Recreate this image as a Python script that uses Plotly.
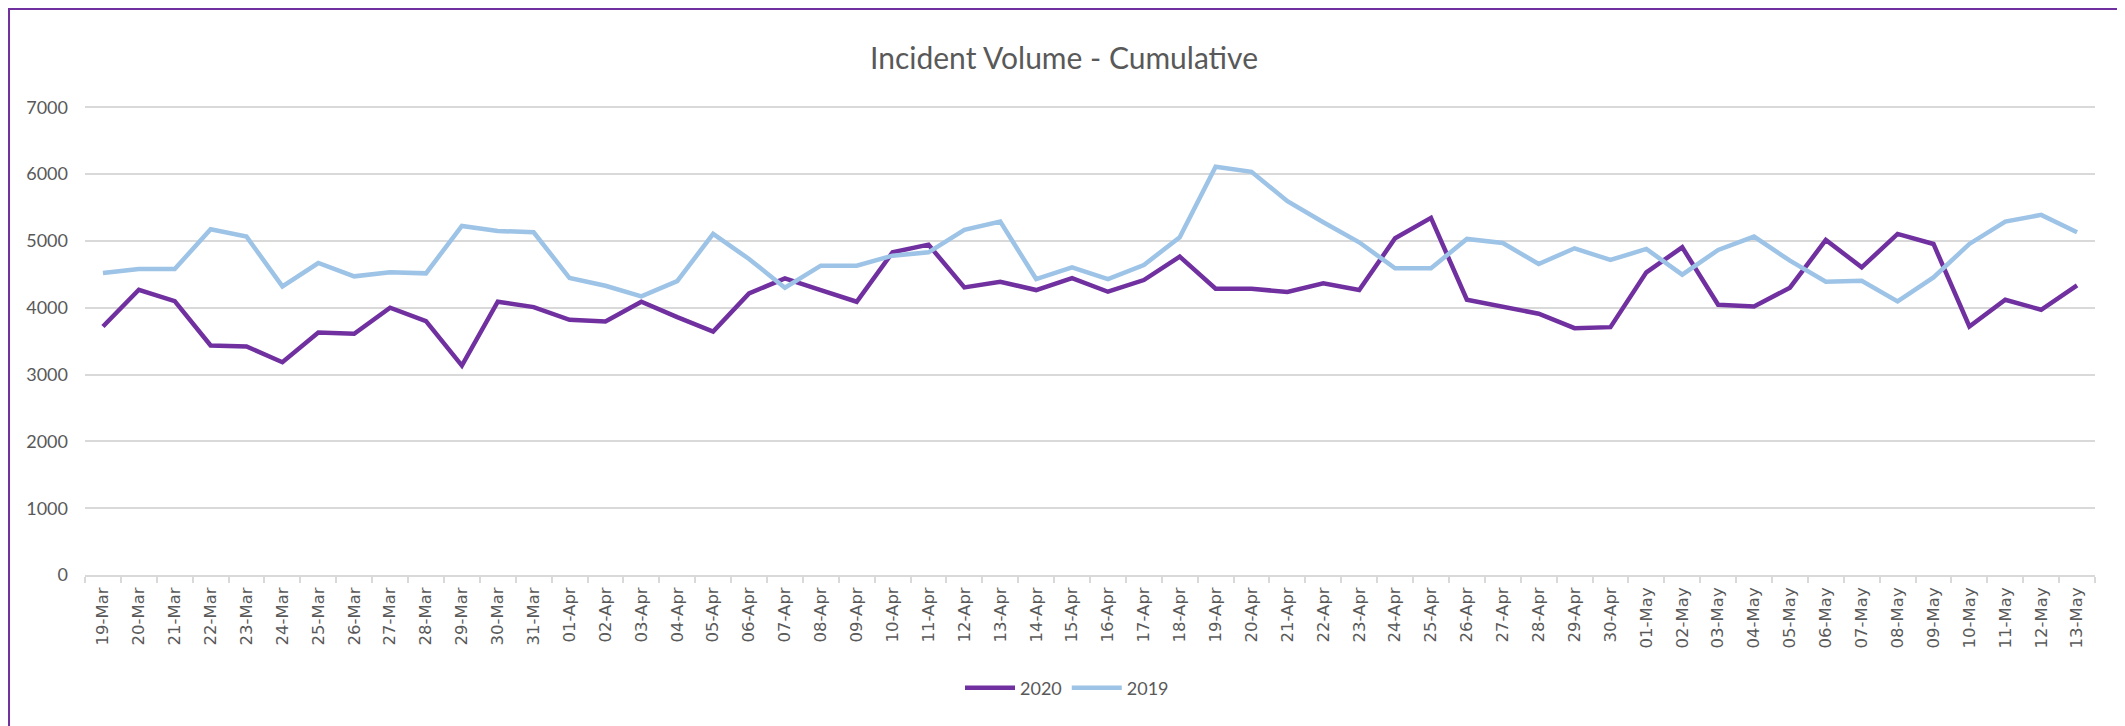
import plotly.graph_objects as go

dates = ['19-Mar', '20-Mar', '21-Mar', '22-Mar', '23-Mar', '24-Mar', '25-Mar', '26-Mar', '27-Mar', '28-Mar',
         '29-Mar', '30-Mar', '31-Mar', '01-Apr', '02-Apr', '03-Apr', '04-Apr', '05-Apr', '06-Apr', '07-Apr',
         '08-Apr', '09-Apr', '10-Apr', '11-Apr', '12-Apr', '13-Apr', '14-Apr', '15-Apr', '16-Apr', '17-Apr',
         '18-Apr', '19-Apr', '20-Apr', '21-Apr', '22-Apr', '23-Apr', '24-Apr', '25-Apr', '26-Apr', '27-Apr',
         '28-Apr', '29-Apr', '30-Apr', '01-May', '02-May', '03-May', '04-May', '05-May', '06-May', '07-May',
         '08-May', '09-May', '10-May', '11-May', '12-May', '13-May']

vol_2020 = [3720, 4270, 4100, 3435, 3420, 3185, 3630, 3610, 4000, 3800,
            3135, 4090, 4010, 3820, 3795, 4090, 3860, 3645, 4215, 4440,
            4265, 4090, 4830, 4945, 4305, 4390, 4265, 4445, 4240, 4415,
            4765, 4285, 4285, 4235, 4365, 4265, 5040, 5345, 4120, 4020,
            3910, 3695, 3710, 4530, 4905, 4045, 4020, 4300, 5015, 4605,
            5105, 4955, 3720, 4120, 3970, 4335]

vol_2019 = [4520, 4580, 4580, 5175, 5065, 4320, 4670, 4470, 4530, 4515,
            5225, 5150, 5130, 4445, 4330, 4170, 4400, 5105, 4730, 4300,
            4630, 4630, 4780, 4830, 5165, 5290, 4430, 4605, 4430, 4640,
            5055, 6110, 6035, 5595, 5280, 4980, 4590, 4590, 5030, 4970,
            4655, 4890, 4715, 4880, 4495, 4865, 5065, 4705, 4390, 4405,
            4095, 4455, 4955, 5290, 5390, 5130]

y_ticks = [0, 1000, 2000, 3000, 4000, 5000, 6000, 7000]

grey = '#595959'
off = 8  # page body margin shifts the figure by this much

fig = go.Figure()
fig.add_trace(go.Scatter(x=dates, y=vol_2020, mode='lines', name='2020',
                         line=dict(color='#7030A0', width=4.5)))
fig.add_trace(go.Scatter(x=dates, y=vol_2019, mode='lines', name='2019',
                         line=dict(color='#9DC3E6', width=4.5)))

# purple frame round the whole chart (bottom edge falls off the page)
fig.add_shape(type='rect', xref='paper', yref='paper',
              x0=-0.0378, x1=1.01294, y0=-0.4, y1=1.2068,
              line=dict(color='#7030A0', width=2), layer='above')

fig.update_layout(
    width=2125, height=726,
    margin=dict(l=85 - off, r=30 + off, t=106 - off, b=151 + off),
    paper_bgcolor='white', plot_bgcolor='white',
    title=dict(text='Incident Volume - Cumulative', x=(1064 - off) / 2125, xref='container', xanchor='center',
               y=1 - (58 - off) / 726, yref='container', yanchor='middle',
               font=dict(family='Lato', size=30, color=grey)),
    showlegend=True,
    legend=dict(orientation='h', x=(1067 - off) / 2125, xanchor='center', xref='container',
                y=1 - (688 - off) / 726, yref='container', yanchor='middle', itemwidth=50,
                font=dict(family='Lato', size=18, color=grey)),
    xaxis=dict(type='category', range=[-0.5, len(dates) - 0.5], tickangle=-90,
               tickson='boundaries', ticks='outside', ticklen=6, tickcolor='#d9d9d9', tickwidth=1.5,
               showline=True, linecolor='#d9d9d9', linewidth=1.5, showgrid=False,
               tickfont=dict(family='DejaVu Sans', size=16.5, color=grey), ticklabelstandoff=4),
    # a little headroom so the 7000 gridline is still drawn
    yaxis=dict(range=[0, 7020], tickvals=y_ticks, showgrid=True, gridcolor='#d9d9d9', gridwidth=1.5,
               zeroline=False, showline=False, ticks='',
               tickfont=dict(family='Lato', size=18, color=grey), ticklabelstandoff=16),
)

fig.write_html('out.html')
